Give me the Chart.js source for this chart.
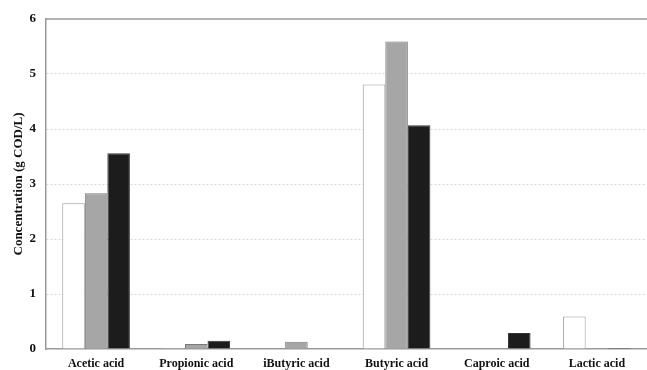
<!DOCTYPE html>
<html>
<head>
<meta charset="utf-8">
<script src="https://cdn.jsdelivr.net/npm/chart.js@4.4.1/dist/chart.umd.min.js"></script>
<style>
  html, body { margin: 0; padding: 0; background: #fff; }
  #wrap { width: 647px; height: 370px; }
</style>
</head>
<body>
<div id="wrap"><canvas id="c" width="647" height="370"></canvas></div>
<script>
// Acid concentrations (g COD/L) for three runs
const categories = ['Acetic acid', 'Propionic acid', 'iButyric acid', 'Butyric acid', 'Caproic acid', 'Lactic acid'];
const run1 = [2.65, 0.02, 0, 4.81, 0, 0.59];
const run2 = [2.83, 0.09, 0.13, 5.59, 0, 0];
const run3 = [3.56, 0.15, 0, 4.07, 0.29, 0.02];
const yTicks = [0, 1, 2, 3, 4, 5, 6];

const serif = '"Liberation Serif", "Times New Roman", serif';

// Solid frame line along the top of the plot area
const topLine = {
  id: 'topLine',
  afterDraw(chart) {
    const { ctx, chartArea } = chart;
    ctx.save();
    ctx.strokeStyle = '#9a9a9a';
    ctx.lineWidth = 1.5;
    ctx.beginPath();
    ctx.moveTo(chartArea.left, chartArea.top);
    ctx.lineTo(chartArea.right + 5, chartArea.top);
    ctx.stroke();
    ctx.restore();
  }
};

new Chart(document.getElementById('c'), {
  type: 'bar',
  data: {
    labels: categories,
    datasets: [
      { label: 'Run 1', data: run1, backgroundColor: '#ffffff', borderColor: '#9a9a9a', borderWidth: 1 },
      { label: 'Run 2', data: run2, backgroundColor: '#a6a6a6', borderColor: '#7a7a7a', borderWidth: 1 },
      { label: 'Run 3', data: run3, backgroundColor: '#1c1c1c', borderColor: '#333333', borderWidth: 1 }
    ]
  },
  options: {
    responsive: false,
    animation: false,
    layout: { padding: { top: 19, right: 0, left: 0, bottom: 0 } },
    plugins: { legend: { display: false }, tooltip: { enabled: false } },
    datasets: { bar: { categoryPercentage: 0.675, barPercentage: 1.0 } },
    scales: {
      x: {
        grid: { display: false, drawTicks: false },
        border: { display: true, color: '#9a9a9a', width: 1.5 },
        ticks: { color: '#111', font: { family: serif, size: 12, weight: 'bold' }, padding: 8 },
        afterFit(scale) { scale.height = 21; }
      },
      y: {
        min: 0,
        max: 6,
        afterBuildTicks(scale) { scale.ticks = yTicks.map(v => ({ value: v })); },
        grid: {
          drawTicks: false,
          color: (c) => (c.tick && (c.tick.value === 0 || c.tick.value === 6)) ? 'rgba(0,0,0,0)' : '#d6d6d6',
          lineWidth: 1
        },
        border: { display: true, color: '#9a9a9a', width: 1.5, dash: [2, 2] },
        ticks: { color: '#111', font: { family: serif, size: 13, weight: 'bold' }, padding: 10 },
        title: {
          display: true,
          text: 'Concentration (g COD/L)',
          color: '#111',
          font: { family: serif, size: 13, weight: 'bold' },
          padding: { top: 11, bottom: 0 }
        },
        afterFit(scale) { scale.width = 46; }
      }
    }
  },
  plugins: [topLine]
});
</script>
</body>
</html>
